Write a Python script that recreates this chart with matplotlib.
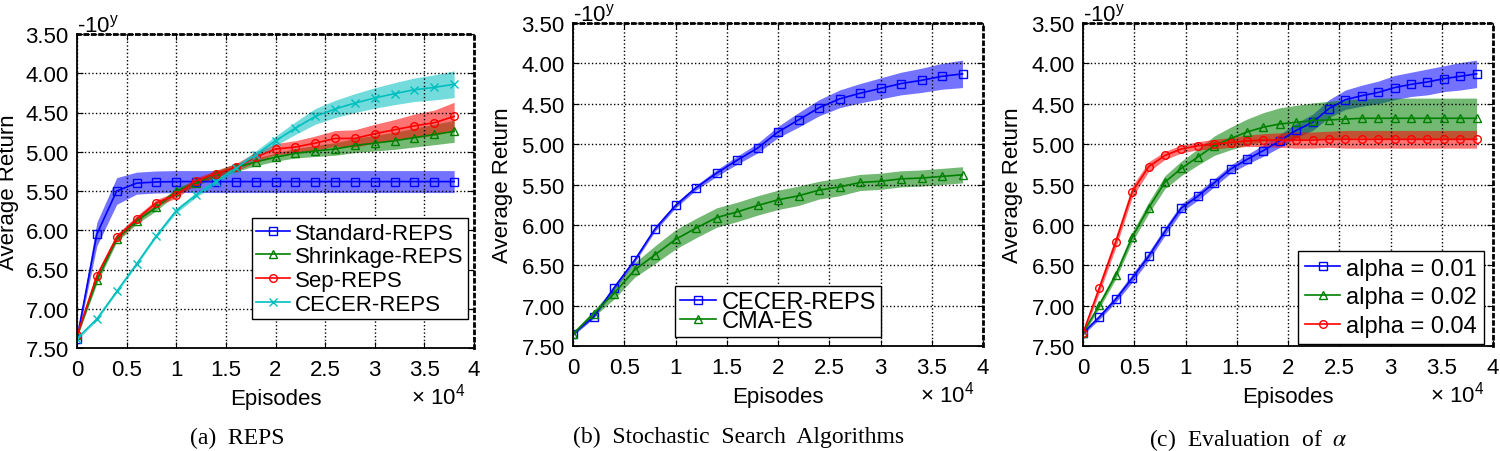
import numpy as np
import matplotlib
matplotlib.use("Agg")
import matplotlib.pyplot as plt

plt.rcParams['font.family'] = ['Liberation Sans', 'DejaVu Sans']
plt.rcParams['mathtext.fontset'] = 'custom'
plt.rcParams['mathtext.rm'] = 'Liberation Sans'
plt.rcParams['mathtext.it'] = 'Liberation Sans:italic'
plt.rcParams['font.size'] = 16

# episodes for panels (a) and (b), and for panel (c)
episodes_ab = [0, 2000, 4000, 6000, 8000, 10000, 12000, 14000, 16000, 18000,
               20000, 22000, 24000, 26000, 28000, 30000, 32000, 34000, 36000, 38000]
episodes_c = [0, 1600, 3200, 4800, 6400, 8000, 9600, 11200, 12800, 14400, 16000,
              17600, 19200, 20800, 22400, 24000, 25600, 27200, 28800, 30400,
              32000, 33600, 35200, 36800, 38400]

# (a) REPS  -- mean and half-width of the shaded band
std_reps = [7.38, 6.05, 5.50, 5.40, 5.385, 5.38, 5.38, 5.38, 5.38, 5.38,
            5.38, 5.38, 5.38, 5.38, 5.38, 5.38, 5.38, 5.38, 5.38, 5.38]
std_reps_sd = [0.03, 0.15, 0.17, 0.14, 0.14, 0.14, 0.14, 0.14, 0.14, 0.14,
               0.14, 0.14, 0.14, 0.14, 0.14, 0.14, 0.14, 0.14, 0.14, 0.14]
shrink_reps = [7.34, 6.64, 6.11, 5.88, 5.71, 5.50, 5.40, 5.28, 5.20, 5.13,
               5.07, 5.02, 4.99, 4.965, 4.92, 4.89, 4.86, 4.82, 4.78, 4.74]
shrink_reps_sd = [0.03, 0.04, 0.04, 0.04, 0.04, 0.04, 0.04, 0.04, 0.05, 0.05,
                  0.05, 0.06, 0.07, 0.08, 0.09, 0.10, 0.11, 0.12, 0.13, 0.14]
sep_reps = [7.34, 6.58, 6.09, 5.86, 5.65, 5.55, 5.37, 5.28, 5.20, 5.07,
            4.965, 4.94, 4.89, 4.83, 4.83, 4.77, 4.72, 4.67, 4.63, 4.55]
sep_reps_sd = [0.03, 0.04, 0.04, 0.04, 0.04, 0.04, 0.04, 0.04, 0.05, 0.06,
               0.07, 0.08, 0.09, 0.10, 0.11, 0.12, 0.13, 0.15, 0.16, 0.18]
cecer_reps = [7.38, 7.13, 6.78, 6.43, 6.07, 5.75, 5.55, 5.38, 5.21, 5.04,
              4.86, 4.70, 4.55, 4.455, 4.38, 4.315, 4.26, 4.21, 4.18, 4.14]
cecer_reps_sd = [0.02, 0.02, 0.02, 0.02, 0.02, 0.03, 0.03, 0.03, 0.04, 0.05,
                 0.06, 0.08, 0.10, 0.11, 0.12, 0.13, 0.14, 0.15, 0.16, 0.17]

# (b) Stochastic search algorithms
cecer_b = [7.35, 7.14, 6.78, 6.44, 6.05, 5.76, 5.54, 5.36, 5.20, 5.05,
           4.85, 4.70, 4.55, 4.44, 4.37, 4.31, 4.25, 4.21, 4.16, 4.13]
cecer_b_sd = [0.02, 0.02, 0.03, 0.03, 0.03, 0.03, 0.03, 0.04, 0.05, 0.06,
              0.07, 0.09, 0.10, 0.11, 0.12, 0.13, 0.14, 0.15, 0.16, 0.17]
cmaes_b = [7.35, 7.10, 6.85, 6.56, 6.37, 6.18, 6.04, 5.91, 5.84, 5.76,
           5.69, 5.64, 5.57, 5.53, 5.475, 5.46, 5.43, 5.42, 5.40, 5.38]
cmaes_b_sd = [0.02, 0.04, 0.07, 0.09, 0.11, 0.12, 0.12, 0.12, 0.12, 0.12,
              0.12, 0.12, 0.11, 0.11, 0.10, 0.10, 0.10, 0.10, 0.10, 0.10]

# (c) Evaluation of alpha
alpha_001 = [7.34, 7.14, 6.92, 6.66, 6.39, 6.08, 5.79, 5.645, 5.48, 5.31, 5.19,
             5.08, 4.96, 4.83, 4.73, 4.56, 4.45, 4.40, 4.36, 4.30, 4.26, 4.23,
             4.19, 4.16, 4.13]
alpha_001_sd = [0.02, 0.03, 0.04, 0.05, 0.05, 0.05, 0.05, 0.05, 0.05, 0.05, 0.06,
                0.07, 0.08, 0.09, 0.10, 0.11, 0.12, 0.13, 0.14, 0.15, 0.15, 0.16,
                0.16, 0.17, 0.17]
alpha_002 = [7.34, 6.99, 6.62, 6.15, 5.79, 5.47, 5.30, 5.16, 5.02, 4.93, 4.85,
             4.79, 4.75, 4.73, 4.71, 4.70, 4.69, 4.68, 4.68, 4.68, 4.68, 4.68,
             4.68, 4.68, 4.68]
alpha_002_sd = [0.02, 0.04, 0.05, 0.06, 0.07, 0.08, 0.09, 0.10, 0.12, 0.14, 0.16,
                0.18, 0.20, 0.21, 0.22, 0.23, 0.24, 0.24, 0.25, 0.25, 0.25, 0.25,
                0.25, 0.25, 0.25]
alpha_004 = [7.34, 6.78, 6.21, 5.59, 5.28, 5.14, 5.06, 5.02, 5.00, 4.98, 4.96,
             4.95, 4.95, 4.95, 4.95, 4.94, 4.94, 4.94, 4.94, 4.94, 4.94, 4.94,
             4.94, 4.94, 4.94]
alpha_004_sd = [0.03, 0.06, 0.07, 0.07, 0.06, 0.05, 0.05, 0.05, 0.06, 0.06, 0.07,
                0.08, 0.09, 0.10, 0.10, 0.10, 0.11, 0.11, 0.11, 0.11, 0.11, 0.11,
                0.11, 0.11, 0.11]

BLUE = (0, 0, 1)
GREEN = (0, 0.5, 0)
RED = (1, 0, 0)
CYAN = (0, 0.75, 0.75)


def curve(ax, episodes, mean, sd, color, marker, label):
    x = np.array(episodes) / 1e4
    m = np.array(mean)
    s = np.array(sd)
    ax.fill_between(x, m - s, m + s, color=color, alpha=0.55, lw=0)
    ax.plot(x, m, color=color, marker=marker, ms=5.5, mfc='none', mew=1,
            lw=1.2, label=label)


def style(ax):
    ax.set_xlim(0, 4)
    ax.set_ylim(7.5, 3.5)
    xt = np.arange(0, 4.01, 0.5)
    ax.set_xticks(xt)
    ax.set_xticklabels([f"{v:g}" for v in xt])
    yt = np.arange(3.5, 7.51, 0.5)
    ax.set_yticks(yt)
    ax.set_yticklabels([f"{v:.2f}" for v in yt])
    ax.grid(True, ls=':', color='k', lw=1)
    ax.tick_params(direction='in', top=True, right=True, length=4, pad=6)
    ax.tick_params(axis='x', pad=8)
    for sp in ['left', 'bottom']:
        ax.spines[sp].set_linewidth(1.3)
    for sp in ['top', 'right']:
        ax.spines[sp].set_linestyle(':')
        ax.spines[sp].set_linewidth(2)
    ax.set_xlabel("Episodes", labelpad=6)
    ax.set_ylabel("Average Return")
    ax.yaxis.set_label_coords(-0.147, 0.5)
    ax.annotate(r"-10$^{\mathrm{y}}$", xy=(0, 1), xycoords='axes fraction',
                xytext=(0, 2), textcoords='offset points',
                ha='left', va='baseline', fontsize=16)
    ax.annotate(r"× 10$^{4}$", xy=(1, 0), xycoords='axes fraction',
                xytext=(-6, -40), textcoords='offset points',
                ha='right', va='baseline', fontsize=16)


fig = plt.figure(figsize=(15, 4.52), dpi=100)
W, H = 1500, 452
ax_a = fig.add_axes([77 / W, 1 - 349 / H, 397 / W, 314 / H])
ax_b = fig.add_axes([573 / W, 1 - 347 / H, 410 / W, 323 / H])
ax_c = fig.add_axes([1083 / W, 1 - 347 / H, 410 / W, 323 / H])

curve(ax_a, episodes_ab, std_reps, std_reps_sd, BLUE, 's', 'Standard-REPS')
curve(ax_a, episodes_ab, shrink_reps, shrink_reps_sd, GREEN, '^', 'Shrinkage-REPS')
curve(ax_a, episodes_ab, sep_reps, sep_reps_sd, RED, 'o', 'Sep-REPS')
curve(ax_a, episodes_ab, cecer_reps, cecer_reps_sd, CYAN, 'x', 'CECER-REPS')

curve(ax_b, episodes_ab, cecer_b, cecer_b_sd, BLUE, 's', 'CECER-REPS')
curve(ax_b, episodes_ab, cmaes_b, cmaes_b_sd, GREEN, '^', 'CMA-ES')

curve(ax_c, episodes_c, alpha_001, alpha_001_sd, BLUE, 's', 'alpha = 0.01')
curve(ax_c, episodes_c, alpha_002, alpha_002_sd, GREEN, '^', 'alpha = 0.02')
curve(ax_c, episodes_c, alpha_004, alpha_004_sd, RED, 'o', 'alpha = 0.04')

for ax in (ax_a, ax_b, ax_c):
    style(ax)

leg_kw = dict(fancybox=False, framealpha=1, edgecolor='k', handlelength=1.5,
              handletextpad=0.25, borderaxespad=0)
ax_a.legend(loc='lower right', bbox_to_anchor=(1 - 6 / 397, 29 / 314),
            fontsize=16, labelspacing=0.12, borderpad=0.2, **leg_kw)
ax_b.legend(loc='lower center', bbox_to_anchor=(0.5, 9 / 323),
            fontsize=17, labelspacing=-0.12, borderpad=0.2, **leg_kw)
ax_c.legend(loc='lower right', bbox_to_anchor=(1 - 9 / 410, 2 / 323),
            fontsize=17, labelspacing=0.28, borderpad=0.3, **leg_kw)

cap_kw = dict(ha='center', va='center', family='Liberation Serif',
              fontsize=17, math_fontfamily='stix')
fig.text(237 / W, 1 - 438 / H, "(a)  REPS", **cap_kw)
fig.text(739 / W, 1 - 437 / H, "(b)  Stochastic  Search  Algorithms", **cap_kw)
fig.text(1248 / W, 1 - 440 / H, r"(c)  Evaluation  of  $\alpha$", **cap_kw)

fig.savefig("out.png", dpi=100)
